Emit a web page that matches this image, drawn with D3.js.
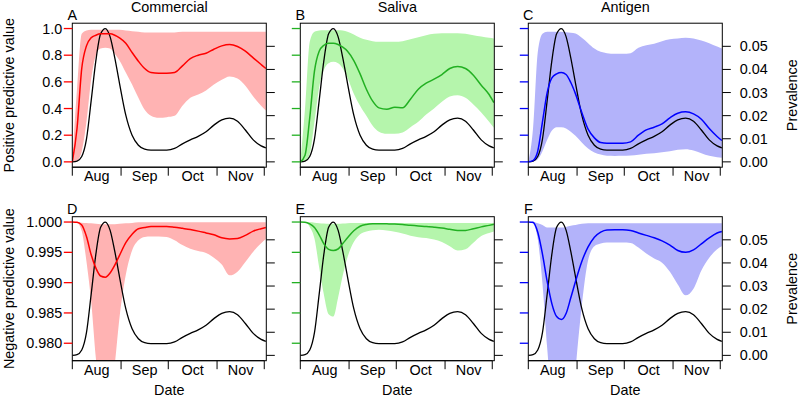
<!DOCTYPE html>
<html><head><meta charset="utf-8">
<script src="https://cdn.jsdelivr.net/npm/d3@7/dist/d3.min.js"></script>
<style>body{margin:0;background:#fff}svg{display:block;font-family:"Liberation Sans",Arial,Helvetica,sans-serif}</style>
</head><body><svg id="c" width="800" height="397"></svg>
<script>
// ---- data (days since Aug 1) ----
const days=[0,3,6,9,12,15,18,21,24,27,30,34,38,42,46,50,55,60,65,70,75,80,85,90,95,100,105,110,115,120,123];
const monthLabels=["Aug","Sep","Oct","Nov"];
const monthStarts=[0,31,61,92,122];
const tests=["Commercial","Saliva","Antigen"];
const panelLetters=[["A","B","C"],["D","E","F"]];
const ppvTicks=[0,0.2,0.4,0.6,0.8,1.0];
const npvTicks=[0.980,0.985,0.990,0.995,1.000];
const prevTicks=[0,0.01,0.02,0.03,0.04,0.05];

const prevalence=[0,0.0003,0.0023,0.0098,0.0265,0.0439,0.0554,0.0577,0.0542,0.0450,0.0340,0.0202,0.0115,0.0072,0.0055,0.0051,0.0051,0.0051,0.0058,0.0078,0.0095,0.0110,0.0130,0.0159,0.0182,0.0189,0.0176,0.0138,0.0095,0.0069,0.0061];

const ppvCommercial=[0,0.25,0.70,0.87,0.93,0.95,0.96,0.96,0.96,0.95,0.93,0.89,0.82,0.755,0.70,0.67,0.665,0.665,0.67,0.72,0.775,0.80,0.815,0.845,0.87,0.88,0.865,0.83,0.78,0.73,0.70];
const ppvCommercialLo=[0,0.01,0.08,0.30,0.62,0.80,0.85,0.855,0.85,0.81,0.76,0.67,0.58,0.48,0.39,0.345,0.33,0.335,0.345,0.42,0.48,0.505,0.535,0.58,0.615,0.64,0.625,0.57,0.49,0.42,0.385];
const ppvCommercialHi=[0,0.55,0.96,0.985,0.99,0.99,0.99,0.99,0.99,0.99,0.99,0.985,0.98,0.975,0.97,0.97,0.97,0.97,0.97,0.975,0.975,0.975,0.975,0.975,0.975,0.975,0.975,0.975,0.975,0.975,0.975];

const ppvSaliva=[0,0.05,0.33,0.68,0.83,0.875,0.89,0.89,0.88,0.86,0.83,0.76,0.66,0.545,0.455,0.405,0.395,0.41,0.405,0.47,0.545,0.59,0.62,0.655,0.70,0.715,0.70,0.65,0.575,0.505,0.445];
const ppvSalivaLo=[0,0.005,0.06,0.30,0.56,0.69,0.74,0.75,0.74,0.70,0.63,0.51,0.42,0.345,0.27,0.225,0.21,0.21,0.22,0.26,0.30,0.355,0.40,0.45,0.49,0.50,0.48,0.43,0.37,0.30,0.255];
const ppvSalivaHi=[0,0.4,0.9,0.975,0.985,0.988,0.988,0.988,0.988,0.985,0.975,0.955,0.93,0.915,0.905,0.90,0.90,0.90,0.905,0.92,0.935,0.95,0.96,0.965,0.965,0.965,0.96,0.95,0.94,0.93,0.925];

const ppvAntigen=[0,0.01,0.08,0.30,0.52,0.63,0.66,0.67,0.655,0.595,0.51,0.37,0.245,0.18,0.145,0.14,0.14,0.14,0.15,0.20,0.24,0.26,0.285,0.33,0.365,0.375,0.36,0.32,0.25,0.19,0.16];
const ppvAntigenLo=[0,0.003,0.02,0.08,0.165,0.235,0.26,0.26,0.25,0.225,0.195,0.145,0.10,0.07,0.055,0.045,0.044,0.045,0.048,0.054,0.06,0.065,0.072,0.08,0.09,0.095,0.085,0.065,0.045,0.035,0.03];
const ppvAntigenHi=[0,0.25,0.82,0.96,0.975,0.975,0.975,0.975,0.972,0.968,0.962,0.93,0.89,0.85,0.825,0.815,0.81,0.81,0.815,0.855,0.875,0.885,0.905,0.92,0.925,0.93,0.925,0.91,0.89,0.865,0.85];

const npvCommercial=[1.0,0.99995,0.9995,0.9976,0.9946,0.9924,0.9911,0.9909,0.9916,0.9929,0.9945,0.9966,0.9980,0.9989,0.9991,0.99925,0.99928,0.99928,0.99915,0.99896,0.99876,0.9985,0.9982,0.9979,0.9974,0.99722,0.9973,0.9978,0.9985,0.9989,0.9991];
const npvCommercialLo=[1.0,0.9999,0.9985,0.9935,0.9869,0.9775,0.970,0.966,0.970,0.9765,0.9842,0.9913,0.9953,0.9970,0.99755,0.99763,0.99763,0.99752,0.9970,0.9962,0.9956,0.9952,0.9949,0.9941,0.9930,0.9912,0.9918,0.9934,0.9951,0.9965,0.9972];
const npvCommercialHi=[1.0,0.99998,0.9999,0.99985,0.9998,0.9997,0.99965,0.99965,0.99965,0.99965,0.9997,0.9998,0.99985,0.99995,0.99995,0.99995,0.99995,0.99995,0.99995,0.99995,0.99995,0.99995,0.99995,0.99995,0.99995,0.99995,0.99995,0.99995,0.99995,0.99995,0.99995];

const npvSaliva=[1.0,0.99998,0.9997,0.9991,0.9979,0.9964,0.9955,0.9953,0.99555,0.99645,0.9974,0.99855,0.9993,0.9996,0.9997,0.99972,0.9997,0.99967,0.99958,0.99945,0.99935,0.99928,0.99915,0.999,0.9988,0.9986,0.99862,0.9989,0.9992,0.99945,0.99962];
const npvSalivaLo=[1.0,0.99995,0.9992,0.9973,0.9925,0.9880,0.9848,0.9844,0.9875,0.9912,0.9942,0.9967,0.9980,0.99845,0.99865,0.99873,0.99862,0.9984,0.9981,0.99775,0.9975,0.99737,0.9971,0.9967,0.9960,0.9953,0.9955,0.9966,0.9977,0.9982,0.99843];
const npvSalivaHi=[1.0,0.99998,0.99995,0.9999,0.9998,0.99975,0.9997,0.9997,0.9997,0.99975,0.9998,0.99985,0.99985,0.99985,0.99985,0.99985,0.99985,0.99985,0.99985,0.99985,0.99985,0.99985,0.99985,0.99985,0.99985,0.99985,0.99985,0.99985,0.99985,0.99985,0.99985];

const npvAntigen=[1.0,0.99995,0.9983,0.9947,0.9902,0.9865,0.9844,0.9839,0.9849,0.9875,0.9902,0.9935,0.9959,0.9975,0.99835,0.9987,0.99873,0.99873,0.9986,0.9982,0.9978,0.9974,0.9969,0.9962,0.9953,0.9950,0.9954,0.9964,0.9974,0.9982,0.99845];
const npvAntigenLo=[1.0,0.9997,0.9972,0.9898,0.9792,0.9700,0.9620,0.9580,0.9600,0.9660,0.9755,0.9862,0.9937,0.9960,0.99645,0.99663,0.99663,0.99663,0.99656,0.9958,0.9948,0.9940,0.9933,0.9918,0.9897,0.9879,0.9890,0.9920,0.9941,0.9955,0.9960];
const npvAntigenHi=[1.0,0.99995,0.9998,0.9995,0.9991,0.9991,0.9991,0.9991,0.9992,0.9994,0.9995,0.9997,0.9998,0.9998,0.9998,0.9998,0.9998,0.9998,0.9998,0.9998,0.9998,0.9998,0.9998,0.9998,0.9998,0.9998,0.9998,0.9998,0.9998,0.9998,0.9998];

const lineColors=["#FF0000","#22B022","#0000FF"];
const bandColors=["#FFB3B3","#B5F5AC","#B3B3FA"];

const rows=[
  {label:"Positive predictive value", ylim:[0,1], ticks:ppvTicks, fmt:d3.format(".1f"),
   series:[[ppvCommercial,ppvCommercialLo,ppvCommercialHi],[ppvSaliva,ppvSalivaLo,ppvSalivaHi],[ppvAntigen,ppvAntigenLo,ppvAntigenHi]]},
  {label:"Negative predictive value", ylim:[0.978,1.0], ticks:npvTicks, fmt:d3.format(".3f"),
   series:[[npvCommercial,npvCommercialLo,npvCommercialHi],[npvSaliva,npvSalivaLo,npvSalivaHi],[npvAntigen,npvAntigenLo,npvAntigenHi]]}
];

// ---- layout ----
const svg=d3.select("#c");
const lefts=[72.3,300.3,528.3], W=194, tops=[23.2,216.7], H=144;
const TK=8.5, FS=14.4;
const ext=(lim)=>{const r=lim[1]-lim[0];return [lim[0]-0.04*r,lim[1]+0.04*r];};
const pMax=d3.max(prevalence);

rows.forEach((row,ri)=>{
  const T=tops[ri];
  tests.forEach((test,ci)=>{
    const L=lefts[ci];
    const x=d3.scaleLinear().domain([0,123.3]).range([L,L+W]);
    const y=d3.scaleLinear().domain(ext(row.ylim)).range([T+H,T]);
    const yp=d3.scaleLinear().domain(ext([0,pMax])).range([T+H,T]);
    const g=svg.append("g");
    const cid="clip"+ri+ci;
    svg.append("clipPath").attr("id",cid).append("rect").attr("x",L).attr("y",T).attr("width",W).attr("height",H);
    const pg=g.append("g").attr("clip-path","url(#"+cid+")");
    const [mid,lo,hi]=row.series[ci];
    const area=d3.area().x((d,i)=>x(days[i])).y0((d,i)=>y(lo[i])).y1((d,i)=>y(hi[i])).curve(d3.curveMonotoneX);
    pg.append("path").attr("d",area(days)).attr("fill",bandColors[ci]);
    const lp=d3.line().x((d,i)=>x(days[i])).y(d=>yp(d)).curve(d3.curveMonotoneX);
    pg.append("path").attr("d",lp(prevalence)).attr("fill","none").attr("stroke","#000").attr("stroke-width",1.3);
    const lm=d3.line().x((d,i)=>x(days[i])).y(d=>y(d)).curve(d3.curveMonotoneX);
    pg.append("path").attr("d",lm(mid)).attr("fill","none").attr("stroke",lineColors[ci]).attr("stroke-width",1.5);

    // box
    g.append("rect").attr("x",L).attr("y",T).attr("width",W).attr("height",H).attr("fill","none").attr("stroke","#000").attr("stroke-width",1);

    // left ticks (colored)
    row.ticks.forEach(t=>{
      g.append("line").attr("x1",L-TK).attr("x2",L).attr("y1",y(t)).attr("y2",y(t)).attr("stroke",lineColors[ci]).attr("stroke-width",1.3);
      if(ci===0) g.append("text").attr("x",L-10).attr("y",y(t)).attr("dy","0.35em").attr("text-anchor","end").attr("font-size",FS).text(row.fmt(t));
    });
    // right ticks (prevalence)
    prevTicks.forEach(t=>{
      g.append("line").attr("x1",L+W).attr("x2",L+W+TK).attr("y1",yp(t)).attr("y2",yp(t)).attr("stroke","#000").attr("stroke-width",1);
      if(ci===2) g.append("text").attr("x",L+W+17.5).attr("y",yp(t)).attr("dy","0.35em").attr("text-anchor","start").attr("font-size",FS).text(d3.format(".2f")(t));
    });
    // x axis
    monthStarts.forEach(m=>{
      g.append("line").attr("x1",x(m)).attr("x2",x(m)).attr("y1",T+H).attr("y2",T+H+TK).attr("stroke","#000");
    });
    g.append("line").attr("x1",x(monthStarts[0])).attr("x2",x(monthStarts[4])).attr("y1",T+H).attr("y2",T+H).attr("stroke","#000");
    monthLabels.forEach((m,i)=>{
      g.append("text").attr("x",x((monthStarts[i]+monthStarts[i+1])/2)).attr("y",T+H+14).attr("text-anchor","middle").attr("font-size",FS).text(m);
    });
    // panel letter
    g.append("text").attr("x",L).attr("y",T-3).attr("text-anchor","middle").attr("font-size",FS).text(panelLetters[ri][ci]);
    if(ri===0) g.append("text").attr("x",L+W/2).attr("y",12.4).attr("text-anchor","middle").attr("font-size",FS).text(test);
    if(ri===1) g.append("text").attr("x",L+W/2).attr("y",395).attr("text-anchor","middle").attr("font-size",FS).text("Date");
  });
  svg.append("text").attr("transform","translate(14,"+(T+H/2)+") rotate(-90)").attr("text-anchor","middle").attr("font-size",FS).text(row.label);
  svg.append("text").attr("transform","translate(797,"+(T+H/2)+") rotate(-90)").attr("text-anchor","middle").attr("font-size",FS).text("Prevalence");
});
</script></body></html>
